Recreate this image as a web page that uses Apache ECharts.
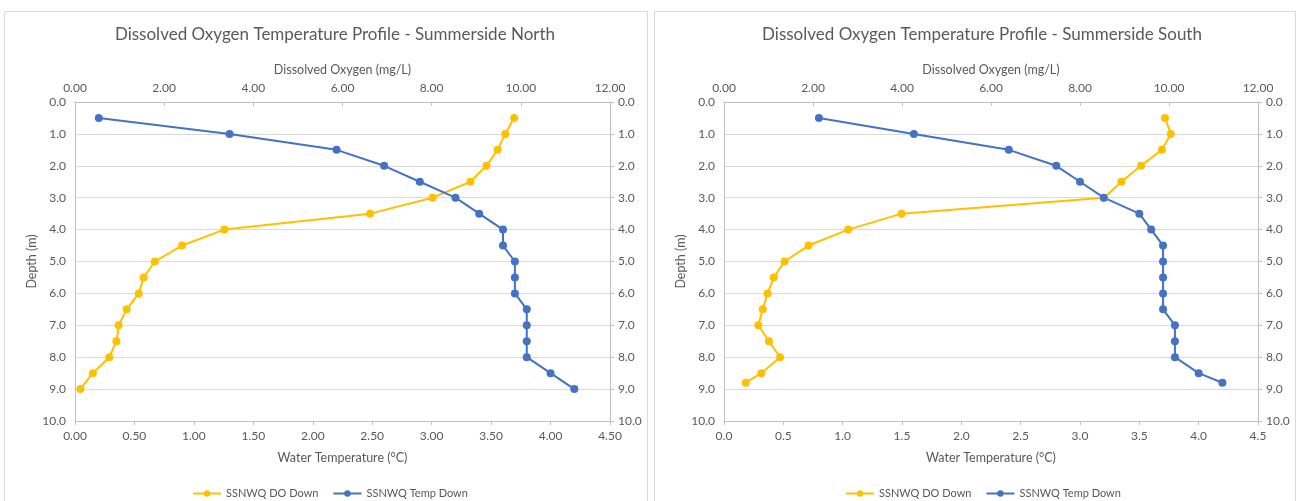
<!DOCTYPE html>
<html>
<head>
<meta charset="utf-8">
<title>Dissolved Oxygen Temperature Profiles - Summerside</title>
<script src="https://cdn.jsdelivr.net/npm/echarts@6/dist/echarts.min.js"></script>
<style>
  html, body { margin: 0; padding: 0; background: #ffffff; }
  #chart { width: 1299px; height: 501px; }
</style>
</head>
<body>
<div id="chart"></div>
<script>
// Sampling depths (m)
const northDepth = [0.5, 1.0, 1.5, 2.0, 2.5, 3.0, 3.5, 4.0, 4.5, 5.0, 5.5, 6.0, 6.5, 7.0, 7.5, 8.0, 8.5, 9.0];
const southDepth = [0.5, 1.0, 1.5, 2.0, 2.5, 3.0, 3.5, 4.0, 4.5, 5.0, 5.5, 6.0, 6.5, 7.0, 7.5, 8.0, 8.5, 8.8];

// Dissolved oxygen (mg/L)
const northDO = [9.85, 9.65, 9.48, 9.23, 8.87, 8.02, 6.62, 3.35, 2.40, 1.79, 1.54, 1.43, 1.16, 0.98, 0.93, 0.77, 0.40, 0.12];
const southDO = [9.91, 10.04, 9.84, 9.37, 8.93, 8.54, 3.99, 2.79, 1.90, 1.36, 1.12, 0.98, 0.87, 0.77, 1.01, 1.26, 0.84, 0.49];

// Water temperature (°C)
const northTemp = [0.2, 1.3, 2.2, 2.6, 2.9, 3.2, 3.4, 3.6, 3.6, 3.7, 3.7, 3.7, 3.8, 3.8, 3.8, 3.8, 4.0, 4.2];
const southTemp = [0.8, 1.6, 2.4, 2.8, 3.0, 3.2, 3.5, 3.6, 3.7, 3.7, 3.7, 3.7, 3.7, 3.8, 3.8, 3.8, 4.0, 4.2];

const titles = ['Dissolved Oxygen Temperature Profile - Summerside North',
                'Dissolved Oxygen Temperature Profile - Summerside South'];
const seriesNames = ['SSNWQ DO Down', 'SSNWQ Temp Down'];
const doAxisName = 'Dissolved Oxygen (mg/L)';
const tempAxisName = 'Water Temperature (°C)';
const depthAxisName = 'Depth (m)';

const FONT = 'Lato, "Open Sans", sans-serif';
const TEXT = '#595959';
const LINE = '#d9d9d9';
const AXIS = '#bfbfbf';
const YELLOW = '#FFC000';
const BLUE = '#4472C4';

const pairs = (xs, ys) => xs.map((x, i) => [x, ys[i]]);

const panels = [
  { left: 75, width: 535, center: 330, legendLeft: 187, tempDecimals: 2,
    doData: pairs(northDO, northDepth), tempData: pairs(northTemp, northDepth) },
  { left: 724, width: 534, center: 977, legendLeft: 840, tempDecimals: 1,
    doData: pairs(southDO, southDepth), tempData: pairs(southTemp, southDepth) }
];

const option = {
  animation: false,
  backgroundColor: '#ffffff',
  textStyle: { fontFamily: FONT, color: TEXT },
  graphic: [
    { type: 'rect', shape: { x: 4.5, y: 11.5, width: 643, height: 496 },
      style: { fill: 'none', stroke: LINE, lineWidth: 1 }, silent: true },
    { type: 'rect', shape: { x: 654.5, y: 11.5, width: 641, height: 496 },
      style: { fill: 'none', stroke: LINE, lineWidth: 1 }, silent: true }
  ],
  title: [], grid: [], xAxis: [], yAxis: [], legend: [], series: []
};

panels.forEach((p, k) => {
  option.title.push({
    text: titles[k], left: p.center, top: 21, textAlign: 'center',
    textStyle: { fontFamily: FONT, fontSize: 17, fontWeight: 'normal', color: TEXT }
  });
  option.grid.push({ left: p.left, width: p.width, top: 102, height: 319 });

  const axisLabel = (d) => ({
    fontFamily: FONT, fontSize: 12, color: TEXT,
    formatter: (v) => Number(v).toFixed(d)
  });
  // bottom: water temperature
  option.xAxis.push({
    type: 'value', gridIndex: k, position: 'bottom', min: 0, max: 4.5, interval: 0.5,
    name: tempAxisName, nameLocation: 'middle', nameGap: 30,
    nameTextStyle: { fontFamily: FONT, fontSize: 12.5, color: TEXT },
    axisLine: { show: true, onZero: false, lineStyle: { color: AXIS } },
    axisTick: { show: true, length: 4, lineStyle: { color: AXIS } },
    splitLine: { show: false },
    axisLabel: Object.assign(axisLabel(p.tempDecimals), { margin: 9 })
  });
  // top: dissolved oxygen
  option.xAxis.push({
    type: 'value', gridIndex: k, position: 'top', min: 0, max: 12, interval: 2,
    name: doAxisName, nameLocation: 'middle', nameGap: 26,
    nameTextStyle: { fontFamily: FONT, fontSize: 12.5, color: TEXT },
    axisLine: { show: true, onZero: false, lineStyle: { color: AXIS } },
    axisTick: { show: true, length: 4, inside: true, lineStyle: { color: AXIS } },
    splitLine: { show: false },
    axisLabel: Object.assign(axisLabel(2), { margin: 8 })
  });
  // depth, left and right
  option.yAxis.push({
    type: 'value', gridIndex: k, position: 'left', inverse: true, min: 0, max: 10, interval: 1,
    name: depthAxisName, nameLocation: 'middle', nameGap: 37,
    nameTextStyle: { fontFamily: FONT, fontSize: 12.5, color: TEXT },
    axisLine: { show: true, onZero: false, lineStyle: { color: AXIS } },
    axisTick: { show: false },
    splitLine: { show: true, lineStyle: { color: LINE, width: 1 } },
    axisLabel: Object.assign(axisLabel(1), { margin: 9 })
  });
  option.yAxis.push({
    type: 'value', gridIndex: k, position: 'right', inverse: true, min: 0, max: 10, interval: 1,
    axisLine: { show: true, onZero: false, lineStyle: { color: AXIS } },
    axisTick: { show: true, length: 4, lineStyle: { color: AXIS } },
    splitLine: { show: false },
    axisLabel: Object.assign(axisLabel(1), { margin: 8 })
  });

  option.legend.push({
    data: seriesNames, left: p.legendLeft, top: 483, orient: 'horizontal',
    itemWidth: 28, itemHeight: 8, itemGap: 14,
    textStyle: { fontFamily: FONT, fontSize: 11, color: TEXT },
    selectedMode: false
  });

  const base = { type: 'line', symbol: 'circle', symbolSize: 8, showSymbol: true, z: 3 };
  option.series.push(Object.assign({}, base, {
    name: seriesNames[0], xAxisIndex: 2 * k + 1, yAxisIndex: 2 * k,
    color: YELLOW, itemStyle: { color: YELLOW }, lineStyle: { width: 2, color: YELLOW },
    data: p.doData
  }));
  option.series.push(Object.assign({}, base, {
    name: seriesNames[1], xAxisIndex: 2 * k, yAxisIndex: 2 * k,
    color: BLUE, itemStyle: { color: BLUE }, lineStyle: { width: 2, color: BLUE },
    data: p.tempData
  }));
});

const chart = echarts.init(document.getElementById('chart'), null, { renderer: 'canvas' });
chart.setOption(option);
</script>
</body>
</html>
